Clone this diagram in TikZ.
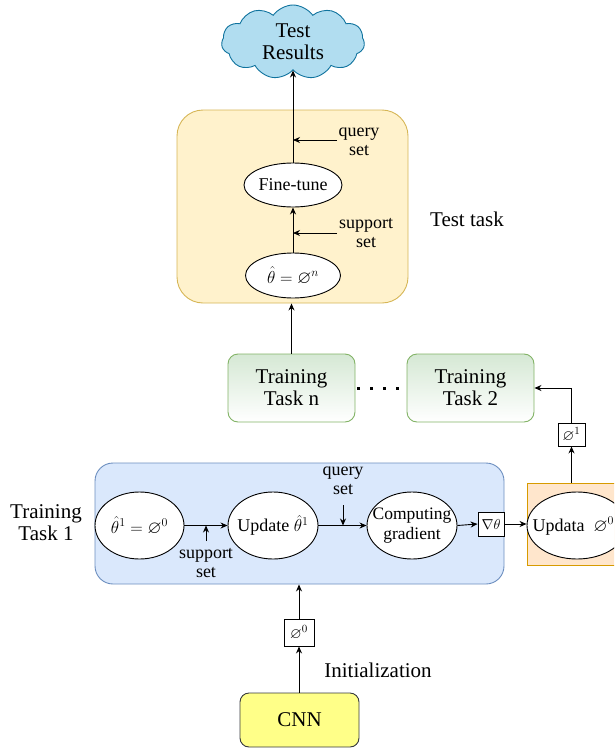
\documentclass[tikz,border=0pt]{standalone}
\usepackage{amsmath,amssymb}
\usepackage{fontspec}
\setmainfont{Liberation Serif}
\newfontfamily\serifx{Liberation Serif}
\usetikzlibrary{shapes.geometric,shapes.symbols,arrows.meta}
\definecolor{cloudfill}{HTML}{B1DDF0}
\definecolor{cloudline}{HTML}{10739E}
\definecolor{yelfill}{HTML}{FFF2CC}
\definecolor{yelline}{HTML}{D6B656}
\definecolor{grnfill}{HTML}{D5E8D4}
\definecolor{grnline}{HTML}{82B366}
\definecolor{blufill}{HTML}{DAE8FC}
\definecolor{bluline}{HTML}{6C8EBF}
\definecolor{orgfill}{HTML}{FFE6CC}
\definecolor{orgline}{HTML}{D79B00}
\definecolor{cnnfill}{HTML}{FFFF88}
\definecolor{cnnline}{HTML}{36393D}
\begin{document}
\begin{tikzpicture}[x=1pt,y=-1pt,
  bigtxt/.style={font=\serifx\fontsize{21}{22}\selectfont, align=center},
  midtxt/.style={font=\serifx\fontsize{18}{19}\selectfont, align=center},
  smalltxt/.style={font=\serifx\fontsize{18}{19}\selectfont, align=center},
  arr/.style={-{Stealth[length=7pt,width=6pt]}, line width=0.9pt},
  ell/.style={ellipse, draw=black, fill=white, line width=0.9pt, inner sep=0pt},
  tinybox/.style={rectangle, draw=black, fill=white, line width=0.9pt, inner sep=0pt, font=\serifx\fontsize{15}{16}\selectfont},
  grnbox/.style={rectangle, rounded corners=10pt, draw=grnline, top color=grnfill, bottom color=white, line width=0.9pt, minimum width=127pt, minimum height=68pt, bigtxt},
]
\useasboundingbox (0,0) rectangle (614,752);
\clip (0,0) rectangle (614,752);

% test results cloud
\node[cloud, cloud puffs=11, cloud puff arc=110, aspect=2, draw=cloudline, fill=cloudfill, line width=0.9pt, minimum width=143pt, minimum height=74pt, inner sep=0pt, bigtxt] (res) at (293,42) {Test\\Results};

% test task box
\node[rectangle, rounded corners=26pt, draw=yelline, fill=yelfill, line width=0.9pt, minimum width=231pt, minimum height=193pt] (test) at (292.5,206.5) {};
\node[ell, minimum width=98pt, minimum height=44pt] (ft) at (293,185) {};
\node[midtxt] (ftt) at (ft) {Fine-tune};
\node[ell, minimum width=95pt, minimum height=45pt] (th) at (293,275.5) {};
\node[midtxt] (tht) at (th) {$\hat{\theta}=\varnothing^{n}$};
\draw[arr] (ft.north) -- (ft.north |- res.south);
\draw[arr] (th.north) -- (ft.south);
\coordinate (qa) at (337,140);
\coordinate (sa) at (337,233);
\draw[arr] (qa) -- (qa -| ft.north);
\draw[arr] (sa) -- (sa -| ft.north);
\node[smalltxt] (qlab) at (359,142) {query\\set};
\node[smalltxt] (slab) at (366,233) {support\\set};
\node[bigtxt] (testlab) at (467,219) {Test task};

% training tasks
\node[grnbox] (tn) at (291.5,388) {Training\\Task n};
\node[grnbox] (t2) at (470.5,388) {Training\\Task 2};
\draw[line width=3pt, dash pattern=on 3pt off 10pt] ([xshift=2pt]tn.east) -- (t2.west);
\draw[arr] (tn.north) -- (tn.north |- test.south);

% training task 1
\node[rectangle, rounded corners=18pt, draw=bluline, fill=blufill, line width=0.9pt, minimum width=409pt, minimum height=121pt] (blu) at (299.5,523.5) {};
\node[bigtxt] (t1lab) at (46,523) {Training\\Task 1};
\node[ell, minimum width=89pt, minimum height=67pt] (e1) at (139.5,525.5) {};
\node[midtxt] (e1t) at (e1) {$\hat{\theta}^{1}=\varnothing^{0}$};
\node[ell, minimum width=90pt, minimum height=67pt] (e2) at (273,525.5) {};
\node[midtxt] (e2t) at (e2) {Update $\hat{\theta}^{1}$};
\node[ell, minimum width=90pt, minimum height=67pt] (e3) at (412,525.5) {};
\node[midtxt, font=\serifx\fontsize{17.5}{20}\selectfont] (e3t) at (e3) {Computing\\gradient};
\node[tinybox, minimum width=26pt, minimum height=24pt] (grad) at (491,524) {$\nabla\theta$};
\node[rectangle, draw=orgline, fill=orgfill, line width=0.9pt, minimum width=100pt, minimum height=82pt] (updr) at (577,524) {};
\node[ell, minimum width=100pt, minimum height=67pt] (upd) at (577,525.5) {};
\node[midtxt, anchor=west] (updt) at (529,526) {Updata\hspace{9pt}$\varnothing^{0}$};
\draw[arr] (e1.east) -- (e2.west);
\draw[arr] (e2.east) -- (e3.west);
\draw[arr] (e3.east) -- (grad.west);
\draw[arr] (grad.east) -- (grad.east -| updr.west);
\coordinate (sb) at (206,541);
\coordinate (qb) at (343,505);
\draw[arr] (sb) -- (sb |- e1.east);
\draw[arr] (qb) -- (qb |- e2.east);
\node[smalltxt] (slab2) at (206,563) {support\\set};
\node[smalltxt] (qlab2) at (343,481) {query\\set};

% phi1 box and return
\node[tinybox, minimum width=27pt, minimum height=23pt] (p1) at (571.5,434.5) {$\varnothing^{1}$};
\coordinate (ut) at (p1.south |- updr.north);
\draw[arr] (ut) -- (p1.south);
\draw[arr] (p1.north) |- (t2.east);

% CNN
\node[rectangle, rounded corners=9pt, draw=cnnline, fill=cnnfill, line width=0.9pt, minimum width=119pt, minimum height=54pt, bigtxt] (cnn) at (299.5,720) {CNN};
\node[tinybox, minimum width=30pt, minimum height=27pt] (p0) at (299,632.5) {$\varnothing^{0}$};
\draw[arr] (cnn.north -| p0.south) -- (p0.south);
\draw[arr] (p0.north) -- (p0.north |- blu.south);
\node[bigtxt] (initlab) at (378,670) {Initialization};
\end{tikzpicture}
\end{document}
